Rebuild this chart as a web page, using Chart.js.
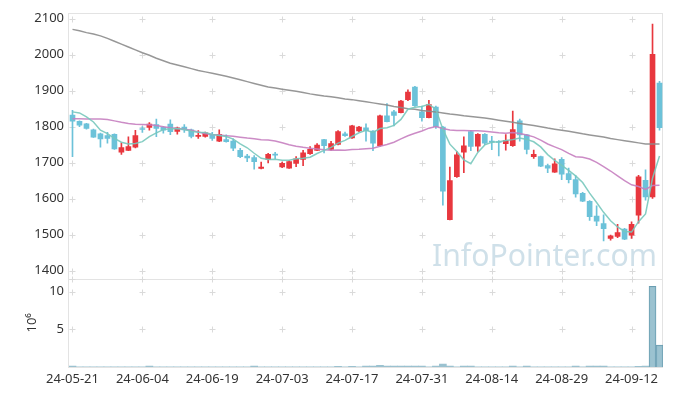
<!DOCTYPE html>
<html><head><meta charset="utf-8">
<script src="https://cdn.jsdelivr.net/npm/chart.js@4/dist/chart.umd.min.js"></script>
<style>html,body{margin:0;padding:0;background:#fff;overflow:hidden}</style>
</head><body>
<canvas id="c" width="673" height="396"></canvas>
<script>
const dates = ['24-05-21','24-05-22','24-05-23','24-05-24','24-05-27','24-05-28','24-05-29','24-05-30','24-05-31','24-06-03',
'24-06-04','24-06-05','24-06-07','24-06-10','24-06-11','24-06-12','24-06-13','24-06-14','24-06-17','24-06-18',
'24-06-19','24-06-20','24-06-21','24-06-24','24-06-25','24-06-26','24-06-27','24-06-28','24-07-01','24-07-02',
'24-07-03','24-07-04','24-07-05','24-07-08','24-07-09','24-07-10','24-07-11','24-07-12','24-07-15','24-07-16',
'24-07-17','24-07-18','24-07-19','24-07-22','24-07-23','24-07-24','24-07-25','24-07-26','24-07-29','24-07-30',
'24-07-31','24-08-01','24-08-02','24-08-05','24-08-06','24-08-07','24-08-08','24-08-09','24-08-12','24-08-13',
'24-08-14','24-08-16','24-08-19','24-08-20','24-08-21','24-08-22','24-08-23','24-08-26','24-08-27','24-08-28',
'24-08-29','24-08-30','24-09-02','24-09-03','24-09-04','24-09-05','24-09-06','24-09-09','24-09-10','24-09-11',
'24-09-12','24-09-13','24-09-19','24-09-20','24-09-23'];

const open  = [1832,1815,1808,1791,1780,1775,1779,1729,1734,1743,1794,1798,1806,1798,1807,1787,1799,1791,1773,1773,
1779,1760,1764,1760,1734,1718,1714,1684,1709,1723,1688,1685,1698,1709,1725,1734,1764,1737,1751,1780,
1769,1788,1797,1788,1747,1830,1841,1839,1875,1910,1841,1825,1854,1799,1542,1661,1729,1786,1746,1779,
1760,1758,1753,1747,1816,1777,1717,1717,1692,1674,1709,1670,1653,1615,1593,1552,1531,1490,1495,1516,
1499,1554,1651,1605,1921];
const high  = [1845,1816,1809,1793,1782,1784,1780,1755,1772,1790,1800,1811,1821,1800,1819,1799,1806,1793,1789,1785,
1784,1791,1777,1766,1740,1723,1720,1702,1726,1729,1702,1706,1717,1734,1745,1753,1765,1759,1789,1785,
1804,1801,1808,1789,1832,1864,1845,1873,1902,1912,1857,1873,1857,1801,1688,1731,1772,1790,1781,1781,
1773,1761,1778,1843,1821,1779,1735,1718,1696,1711,1714,1685,1664,1618,1595,1580,1555,1499,1529,1518,
1536,1665,1680,2085,1926];
const low   = [1717,1800,1793,1770,1743,1754,1737,1723,1733,1741,1784,1790,1772,1782,1778,1779,1784,1769,1767,1771,
1762,1758,1757,1733,1714,1703,1682,1683,1699,1711,1686,1684,1689,1692,1723,1733,1727,1734,1749,1773,
1767,1786,1760,1733,1745,1813,1802,1838,1872,1856,1815,1824,1795,1582,1541,1659,1672,1733,1731,1750,
1736,1719,1735,1745,1760,1724,1712,1689,1672,1673,1653,1644,1604,1592,1540,1525,1483,1485,1492,1486,
1490,1532,1596,1601,1790];
const close = [1815,1804,1795,1771,1766,1767,1738,1742,1745,1775,1792,1807,1795,1790,1786,1797,1791,1773,1776,1783,
1767,1779,1758,1740,1717,1713,1703,1688,1723,1721,1698,1703,1711,1727,1737,1749,1747,1753,1786,1775,
1802,1799,1789,1754,1830,1814,1831,1871,1896,1858,1825,1861,1800,1621,1650,1722,1747,1745,1779,1754,
1757,1756,1761,1792,1777,1737,1723,1690,1685,1697,1668,1653,1613,1593,1550,1538,1517,1497,1506,1488,
1529,1661,1605,2001,1797];
// volume, in millions of shares
const volume = [0.12,0.02,0.02,0.02,0.02,0.02,0.02,0.02,0.02,0.02,0.02,0.12,0.02,0.02,0.02,0.02,0.02,0.02,0.02,0.02,
0.02,0.02,0.02,0.02,0.02,0.02,0.12,0.02,0.02,0.02,0.02,0.02,0.02,0.02,0.02,0.02,0.02,0.02,0.1,0.02,
0.1,0.02,0.12,0.12,0.22,0.12,0.12,0.12,0.12,0.12,0.12,0.02,0.13,0.4,0.12,0.02,0.12,0.12,0.02,0.02,
0.02,0.02,0.02,0.12,0.02,0.12,0.02,0.02,0.02,0.02,0.02,0.02,0.12,0.02,0.12,0.12,0.12,0.02,0.02,0.02,
0.02,0.1,0.12,10.7,2.9];
const ma5 = [1841,1838,1827,1813,1790.2,1780.6,1767.4,1756.8,1751.6,1753.4,1758.4,1772.2,1782.8,1791.8,1794,1795,1791.8,1787.4,1784.6,1784,
1778,1775.6,1772.6,1765.4,1752.2,1741.4,1726.2,1712.2,1708.8,1709.6,1706.6,1706.6,1711.2,1712,1715.2,1725.4,1734.2,1742.6,1754.4,1762,
1772.6,1783,1790.2,1783.8,1794.8,1797.2,1803.6,1820,1848.4,1854,1856.2,1862.2,1848,1793,1751.4,1730.8,1708,1697,1728.6,1749.4,
1756.4,1758.2,1761.4,1764,1768.6,1764.6,1758,1743.8,1722.4,1706.4,1692.6,1678.6,1663.2,1644.8,1615.4,1589.4,1562.2,1539,1521.6,1509.2,
1507.4,1536.2,1557.8,1656.8,1718.6];
const ma20 = [1822,1822,1821,1821,1821,1820,1816,1812,1809,1807,1806,1805,1803,1800,1797,1795,1793,1790,1785,1780.4,
1778,1776.8,1774.9,1773.4,1770.9,1768.2,1766.5,1763.8,1762.7,1760,1755.3,1750,1745.9,1742.7,1740.3,1737.9,1735.7,1734.7,1735.2,1734.8,
1736.5,1737.5,1739,1739.8,1745.4,1750.5,1756.9,1766,1774.7,1781.5,1787.9,1795.8,1800.2,1794.9,1790.6,1789.2,1789.2,1788.8,1788.5,1787.4,
1785.2,1783,1781.6,1783.5,1780.9,1777,1771.6,1762.6,1752,1744,1736.1,1725.7,1716.4,1715,1710,1700.8,1689.3,1676.9,1663.2,1649.9,
1638.5,1633.8,1626,1636.4,1637.4];
const ma120 = [2070,2066,2061,2057,2052,2045,2037,2029,2021,2013,2005,1998,1990,1983,1976,1971,1966,1961,1956,1952,
1948,1944,1940,1935,1930,1925,1920,1915,1910,1907,1904,1901,1898,1895,1891,1888,1885,1883,1880,1877,
1875,1872,1869,1866,1863,1860,1856,1853,1850,1848,1845,1843,1841,1838,1835,1833,1830,1828,1826,1824,
1821,1818,1815,1812,1809,1806,1803,1800,1796,1793,1790,1787,1784,1780,1777,1774,1771,1767,1764,1761,
1758,1755,1752,1752,1752];
const priceTicks = [1400,1500,1600,1700,1800,1900,2000,2100];
const volumeTicks = [5,10];
const xTickLabels = ['24-05-21','24-06-04','24-06-19','24-07-03','24-07-17','24-07-31','24-08-14','24-08-29','24-09-12'];
const watermark = 'InfoPointer.com';

const UP = '#e8373e', DOWN = '#6cc2d9';
const candleColors = close.map((c,i) => c >= open[i] ? UP : DOWN);
const FONT = '"Noto Sans", "DejaVu Sans", sans-serif';

const decor = {
  id: 'decor',
  beforeDatasetsDraw(chart) {
    const {ctx, scales} = chart;
    const x = scales.x, y = scales.y, yv = scales.yv;
    ctx.save();
    // watermark
    ctx.font = '30px ' + FONT;
    ctx.fillStyle = 'rgba(175,203,219,0.6)';
    ctx.textBaseline = 'alphabetic';
    const w = ctx.measureText(watermark).width;
    ctx.translate(x.right - 231, y.bottom - 13);
    ctx.scale(225 / w, 1);
    ctx.fillText(watermark, 0, 0);
    ctx.restore();
    ctx.save();
    // frames
    ctx.strokeStyle = '#e3e3e3';
    ctx.lineWidth = 1;
    ctx.strokeRect(Math.round(x.left) - 0.5, Math.round(y.top) + 0.5, Math.round(x.right - x.left), Math.round(y.bottom - y.top));
    ctx.strokeRect(Math.round(x.left) - 0.5, Math.round(yv.top) + 0.5, Math.round(x.right - x.left), Math.round(yv.bottom - yv.top));
    // cross marks
    ctx.strokeStyle = '#dadada';
    const xs = dates.map((d,i) => xTickLabels.includes(d) ? x.getPixelForValue(i) : null).filter(v => v !== null);
    const ys = priceTicks.map(v => y.getPixelForValue(v)).concat([y.bottom], volumeTicks.map(v => yv.getPixelForValue(v)));
    ctx.beginPath();
    xs.forEach(px => ys.forEach(py => {
      const X = Math.round(px) + 0.5, Y = Math.round(py) + 0.5;
      ctx.moveTo(X - 3, Y); ctx.lineTo(X + 3, Y);
      ctx.moveTo(X, Y - 3); ctx.lineTo(X, Y + 3);
    }));
    ctx.stroke();
    ctx.restore();
  }
};

new Chart(document.getElementById('c'), {
  data: {
    labels: dates,
    datasets: [
      { type: 'line', label: 'MA5', data: ma5, yAxisID: 'y', borderColor: 'rgba(120,200,188,0.9)', borderWidth: 1.5, pointRadius: 0, tension: 0, order: 0 },
      { type: 'line', label: 'MA20', data: ma20, yAxisID: 'y', borderColor: 'rgba(198,128,192,0.9)', borderWidth: 1.5, pointRadius: 0, tension: 0, order: 0 },
      { type: 'line', label: 'MA120', data: ma120, yAxisID: 'y', borderColor: 'rgba(140,140,140,0.9)', borderWidth: 1.5, pointRadius: 0, tension: 0, order: 0 },
      { type: 'bar', label: 'wick', data: low.map((l,i) => [l, high[i]]), yAxisID: 'y', backgroundColor: candleColors, barThickness: 1, grouped: false, order: 2 },
      { type: 'bar', label: 'body', data: open.map((o,i) => [o, close[i]]), yAxisID: 'y', backgroundColor: candleColors, barThickness: 5, grouped: false, minBarLength: 1, order: 1 },
      { type: 'bar', label: 'volume', data: volume, yAxisID: 'yv', backgroundColor: 'rgba(150,191,206,0.95)',
        borderColor: '#6a9db1', borderWidth: c => (volume[c.dataIndex] >= 1 ? 1 : 0), borderSkipped: 'bottom',
        barPercentage: 1, categoryPercentage: 1, grouped: false, order: 1 }
    ]
  },
  options: {
    responsive: false, animation: false, devicePixelRatio: 1,
    layout: { padding: { top: 10, right: 10, left: 0, bottom: 0 } },
    plugins: { legend: { display: false }, tooltip: { enabled: false } },
    scales: {
      x: {
        type: 'category', offset: true,
        grid: { display: false, drawTicks: false }, border: { display: false },
        ticks: { autoSkip: false, maxRotation: 0, padding: 4, color: '#333', font: { family: FONT, size: 13 },
          callback: (v, i) => xTickLabels.includes(dates[i]) ? dates[i] : null },
        afterFit: s => { s.height = 29; }
      },
      yv: {
        type: 'linear', position: 'left', stack: 'main', stackWeight: 89,
        min: 0, max: 11.7,
        grid: { display: false, drawTicks: false }, border: { display: false },
        title: { display: true, text: '10⁶', color: '#333', font: { family: FONT, size: 13 }, padding: { top: 24, bottom: 0 } },
        ticks: { padding: 5, color: '#333', font: { family: FONT, size: 13 }, callback: v => String(v) },
        afterBuildTicks: s => { s.ticks = volumeTicks.map(v => ({ value: v })); },
        afterFit: s => { s.width = 69; }
      },
      y: {
        type: 'linear', position: 'left', stack: 'main', stackWeight: 268,
        min: 1378, max: 2116,
        grid: { display: false, drawTicks: false }, border: { display: false },
        ticks: { padding: 5, color: '#333', font: { family: FONT, size: 13 }, callback: v => String(v) },
        afterBuildTicks: s => { s.ticks = priceTicks.map(v => ({ value: v })); },
        afterFit: s => { s.width = 69; }
      }
    }
  },
  plugins: [decor]
});
</script>
</body></html>
